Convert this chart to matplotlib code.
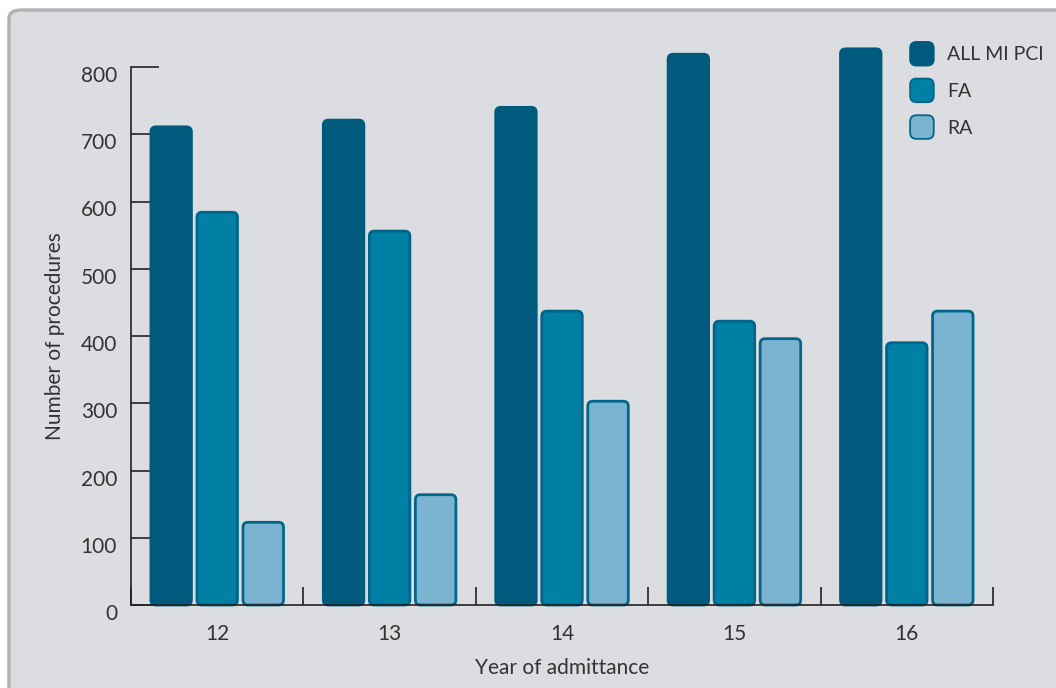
import matplotlib
matplotlib.use("Agg")
import matplotlib.pyplot as plt
from matplotlib.patches import FancyBboxPatch, Patch
from matplotlib.legend_handler import HandlerPatch
import matplotlib.transforms as mtransforms
import numpy as np

years = ["12", "13", "14", "15", "16"]
series_names = ["ALL MI PCI", "FA", "RA"]
all_mi_pci = [711, 721, 740, 819, 827]
fa = [584, 556, 437, 422, 390]
ra = [123, 164, 303, 396, 437]
y_ticks = [0, 100, 200, 300, 400, 500, 600, 700, 800]

face_colors = ["#005a7d", "#0080a4", "#7ab4d1"]
edge_colors = ["#005a7d", "#006588", "#00668a"]
text_color = "#333333"

plt.rcParams['font.family'] = ['Lato', 'DejaVu Sans']
plt.rcParams['font.weight'] = 'normal'
FS = 15
LFS = 14

W, H = 1056, 688
fig = plt.figure(figsize=(W / 100, H / 100), dpi=100)
fig.patch.set_facecolor("white")

# background panel
bg = FancyBboxPatch((9 / W, -0.05), 1.1, 1.05 - 10 / H,
                    boxstyle="round,pad=0,rounding_size=0.012",
                    transform=fig.transFigure, facecolor="#dcdde0",
                    edgecolor="#b2b3b5", linewidth=2.5, zorder=-10)
fig.patches.append(bg)

ax = fig.add_axes([131 / W, 1 - 605 / H, (993 - 131) / W, (605 - 67) / H])
ax.set_zorder(1)
ax.set_facecolor("none")
ax.set_xlim(-0.5, 4.5)
ax.set_ylim(0, 800)

x = np.arange(len(years))
offsets = [-0.267, 0.0, 0.267]
width = 0.235
data = [all_mi_pci, fa, ra]

# pixel aspect for rounded corners
ax_w_px = 993 - 131
ax_h_px = 605 - 67
x_per_px = 5.0 / ax_w_px
y_per_px = 800.0 / ax_h_px
aspect = y_per_px / x_per_px
r = 5 * x_per_px

for i, vals in enumerate(data):
    bars = ax.bar(x + offsets[i], vals, width=width, color="none", edgecolor="none")
    for b in bars:
        bx, by = b.get_x(), b.get_y()
        bw, bh = b.get_width(), b.get_height()
        p = FancyBboxPatch((bx, by), bw, bh,
                           boxstyle=f"round,pad=0,rounding_size={r}",
                           mutation_aspect=aspect,
                           facecolor=face_colors[i], edgecolor=edge_colors[i],
                           linewidth=2.0, clip_on=False, zorder=3)
        ax.add_patch(p)

# spines
for s in ["top", "right"]:
    ax.spines[s].set_visible(False)
for s in ["left", "bottom"]:
    ax.spines[s].set_color("#222222")
    ax.spines[s].set_linewidth(1.2)
    ax.spines[s].set_zorder(4)

ax.set_yticks(y_ticks)
ax.set_yticklabels([str(t) for t in y_ticks])
ax.tick_params(axis="y", direction="in", length=20, width=1.2, color="#222222",
               labelsize=FS, labelcolor=text_color, pad=10)
for lab in ax.get_yticklabels():
    lab.set_transform(lab.get_transform() + mtransforms.ScaledTranslation(0, -7 / 100, fig.dpi_scale_trans))

# x: major ticks at boundaries (no labels), minor at centers with labels
ax.set_xticks(np.arange(-0.5, 5.0, 1.0))
ax.set_xticklabels([])
ax.tick_params(axis="x", which="major", direction="in", length=13, width=1.2, color="#222222")
ax.set_xticks(x, minor=True)
ax.set_xticklabels(years, minor=True)
ax.tick_params(axis="x", which="minor", length=0, labelsize=FS, labelcolor=text_color, pad=14)

ax.set_ylabel("Number of procedures", fontsize=FS, color=text_color, labelpad=11)
ax.set_xlabel("Year of admittance", fontsize=FS, color=text_color, labelpad=10)


class RoundHandler(HandlerPatch):
    def create_artists(self, legend, orig_handle, xdescent, ydescent, width, height, fontsize, trans):
        s = 17
        p = FancyBboxPatch((-xdescent + (width - s) / 2, -ydescent + (height - s) / 2), s, s,
                           boxstyle="round,pad=0,rounding_size=4.5",
                           facecolor=orig_handle.get_facecolor(),
                           edgecolor=orig_handle.get_edgecolor(), linewidth=1.3,
                           transform=trans)
        return [p]


handles = [Patch(facecolor=face_colors[i], edgecolor=edge_colors[i]) for i in range(3)]
leg = fig.legend(handles, series_names, loc="upper left",
                 bbox_to_anchor=(902 / W, 1 - 36 / H), frameon=False,
                 fontsize=LFS, labelcolor=text_color, handletextpad=0.67,
                 labelspacing=0.86, handlelength=1.25, handleheight=1.2,
                 borderpad=0.4, borderaxespad=0,
                 handler_map={Patch: RoundHandler()})

fig.savefig("out.png", dpi=100)
